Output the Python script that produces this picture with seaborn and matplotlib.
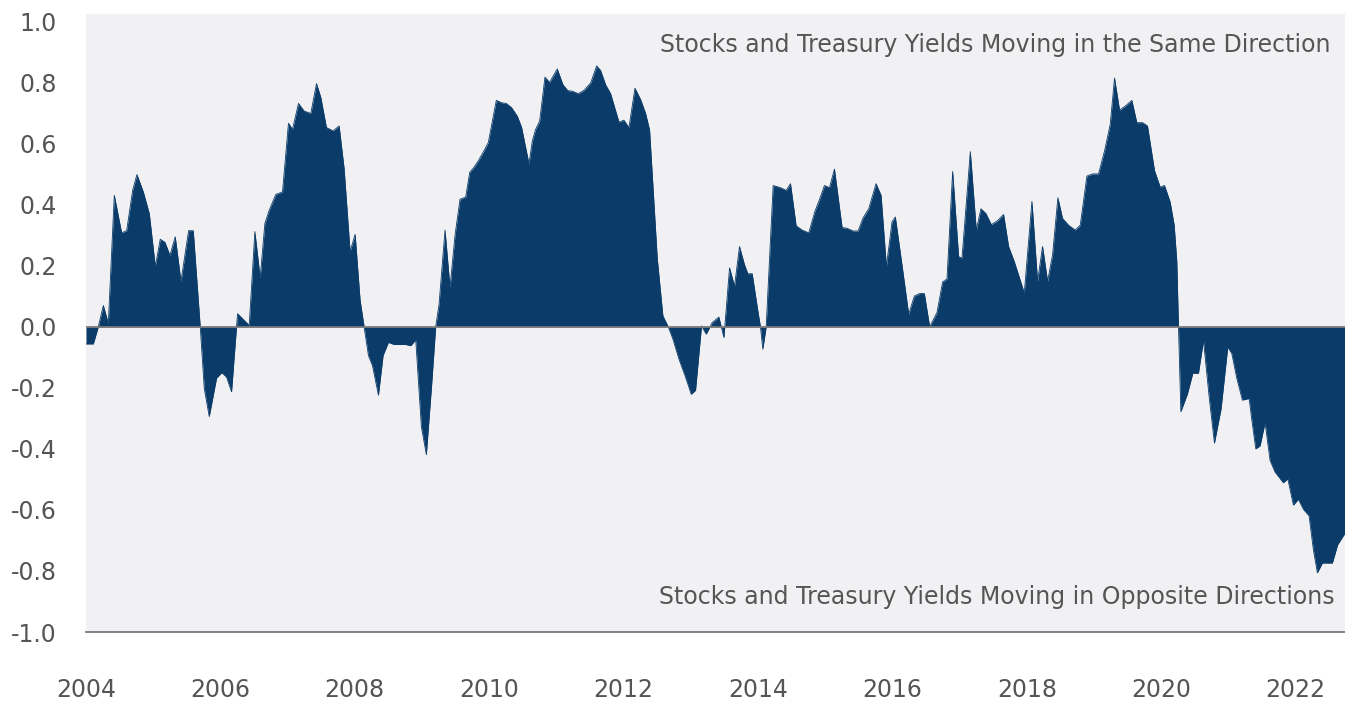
import matplotlib
matplotlib.use("Agg")
import matplotlib.pyplot as plt
import seaborn as sns
import pandas as pd

# ---- data (fractional year, correlation) ----
dates = [
    2004.000, 2004.109, 2004.183, 2004.258, 2004.332, 2004.421, 2004.530, 2004.605,
    2004.694, 2004.758, 2004.853, 2004.942, 2005.031, 2005.105, 2005.175, 2005.249,
    2005.328, 2005.413, 2005.527, 2005.596, 2005.700, 2005.760, 2005.834, 2005.943,
    2006.022, 2006.092, 2006.166, 2006.255, 2006.429, 2006.513, 2006.592, 2006.662,
    2006.726, 2006.825, 2006.924, 2007.013, 2007.073, 2007.162, 2007.246, 2007.345,
    2007.430, 2007.494, 2007.578, 2007.677, 2007.767, 2007.841, 2007.930, 2008.005,
    2008.079, 2008.139, 2008.203, 2008.263, 2008.352, 2008.421, 2008.500, 2008.585,
    2008.758, 2008.832, 2008.907, 2008.991, 2009.065, 2009.145, 2009.204, 2009.254,
    2009.343, 2009.417, 2009.492, 2009.566, 2009.650, 2009.710, 2009.774, 2009.838,
    2009.923, 2009.987, 2010.106, 2010.186, 2010.255, 2010.334, 2010.419, 2010.483,
    2010.542, 2010.592, 2010.642, 2010.691, 2010.751, 2010.830, 2010.899, 2011.013,
    2011.098, 2011.170, 2011.237, 2011.326, 2011.411, 2011.510, 2011.599, 2011.658,
    2011.733, 2011.807, 2011.931, 2012.005, 2012.080, 2012.169, 2012.253, 2012.328,
    2012.387, 2012.437, 2012.501, 2012.585, 2012.665, 2012.734, 2012.823, 2012.913,
    2013.007, 2013.071, 2013.160, 2013.230, 2013.319, 2013.418, 2013.493, 2013.577,
    2013.651, 2013.725, 2013.800, 2013.849, 2013.914, 2013.998, 2014.037, 2014.072,
    2014.122, 2014.226, 2014.335, 2014.419, 2014.484, 2014.568, 2014.657, 2014.756,
    2014.845, 2014.920, 2014.989, 2015.064, 2015.138, 2015.252, 2015.326, 2015.415,
    2015.490, 2015.564, 2015.648, 2015.757, 2015.832, 2015.911, 2015.995, 2016.044,
    2016.143, 2016.243, 2016.327, 2016.406, 2016.476, 2016.555, 2016.664, 2016.748,
    2016.813, 2016.897, 2016.986, 2017.036, 2017.160, 2017.249, 2017.318, 2017.393,
    2017.472, 2017.556, 2017.655, 2017.730, 2017.814, 2017.963, 2018.077, 2018.161,
    2018.235, 2018.310, 2018.384, 2018.463, 2018.533, 2018.622, 2018.721, 2018.796,
    2018.895, 2018.979, 2019.068, 2019.158, 2019.242, 2019.306, 2019.381, 2019.475,
    2019.564, 2019.638, 2019.723, 2019.797, 2019.901, 2019.985, 2020.050, 2020.134,
    2020.194, 2020.233, 2020.258, 2020.293, 2020.392, 2020.471, 2020.555, 2020.630,
    2020.714, 2020.793, 2020.892, 2020.991, 2021.051, 2021.125, 2021.209, 2021.309,
    2021.348, 2021.408, 2021.472, 2021.546, 2021.621, 2021.695, 2021.819, 2021.884,
    2021.968, 2022.042, 2022.117, 2022.201, 2022.265, 2022.325, 2022.399, 2022.548,
    2022.627, 2022.736,
]

corr = [
    -0.056, -0.056, 0.000, 0.070, 0.011, 0.431, 0.308, 0.315,
    0.447, 0.499, 0.442, 0.371, 0.198, 0.287, 0.277, 0.234,
    0.295, 0.149, 0.315, 0.315, 0.000, -0.202, -0.294, -0.168,
    -0.150, -0.165, -0.213, 0.043, 0.005, 0.312, 0.160, 0.339,
    0.382, 0.434, 0.442, 0.667, 0.647, 0.732, 0.707, 0.699,
    0.797, 0.752, 0.653, 0.642, 0.658, 0.519, 0.247, 0.303,
    0.087, 0.000, -0.094, -0.127, -0.224, -0.094, -0.051, -0.058,
    -0.058, -0.062, -0.043, -0.327, -0.419, -0.186, 0.000, 0.074,
    0.317, 0.128, 0.301, 0.418, 0.425, 0.506, 0.523, 0.544,
    0.577, 0.604, 0.742, 0.734, 0.732, 0.718, 0.690, 0.653,
    0.588, 0.534, 0.609, 0.647, 0.674, 0.818, 0.801, 0.845,
    0.793, 0.774, 0.772, 0.764, 0.775, 0.799, 0.855, 0.840,
    0.793, 0.764, 0.671, 0.677, 0.653, 0.782, 0.745, 0.699,
    0.645, 0.463, 0.225, 0.036, 0.000, -0.040, -0.105, -0.159,
    -0.221, -0.208, 0.003, -0.024, 0.014, 0.032, -0.035, 0.193,
    0.133, 0.263, 0.203, 0.174, 0.174, 0.052, 0.000, -0.073,
    0.000, 0.463, 0.456, 0.447, 0.469, 0.331, 0.317, 0.308,
    0.377, 0.420, 0.463, 0.456, 0.517, 0.325, 0.323, 0.314,
    0.314, 0.357, 0.387, 0.469, 0.431, 0.198, 0.344, 0.360,
    0.203, 0.041, 0.101, 0.109, 0.109, 0.000, 0.047, 0.147,
    0.157, 0.509, 0.230, 0.225, 0.574, 0.317, 0.387, 0.371,
    0.335, 0.346, 0.368, 0.263, 0.214, 0.111, 0.411, 0.149,
    0.263, 0.149, 0.236, 0.423, 0.355, 0.333, 0.317, 0.333,
    0.494, 0.501, 0.501, 0.577, 0.663, 0.815, 0.710, 0.725,
    0.742, 0.669, 0.669, 0.658, 0.512, 0.458, 0.463, 0.409,
    0.333, 0.214, 0.000, -0.278, -0.219, -0.152, -0.152, -0.045,
    -0.229, -0.381, -0.268, -0.067, -0.087, -0.168, -0.240, -0.235,
    -0.303, -0.400, -0.390, -0.314, -0.438, -0.476, -0.511, -0.498,
    -0.584, -0.565, -0.598, -0.619, -0.730, -0.806, -0.774, -0.774,
    -0.714, -0.676,
]

x_ticks = [2004, 2006, 2008, 2010, 2012, 2014, 2016, 2018, 2020, 2022]
x_tick_labels = ["2004", "2006", "2008", "2010", "2012", "2014", "2016", "2018", "2020", "2022"]
y_ticks = [-1.0, -0.8, -0.6, -0.4, -0.2, 0.0, 0.2, 0.4, 0.6, 0.8, 1.0]
y_tick_labels = ["-1.0", "-0.8", "-0.6", "-0.4", "-0.2", "0.0", "0.2", "0.4", "0.6", "0.8", "1.0"]

label_top = "Stocks and Treasury Yields Moving in the Same Direction"
label_bottom = "Stocks and Treasury Yields Moving in Opposite Directions"

# ---- styling ----
NAVY = "#0b3c69"
BG = "#f1f1f4"
TXT = "#555555"
LINE = "#7a7a7a"

sns.set_theme(style="white")
plt.rcParams["font.family"] = ["DejaVu Sans"]

W, H = 1345, 703
fig = plt.figure(figsize=(W / 100, H / 100), dpi=100)
left, right, top, bottom = 86, 1345, 14, 632
ax = fig.add_axes([left / W, 1 - bottom / H, (right - left) / W, (bottom - top) / H])
ax.set_facecolor(BG)

df = pd.DataFrame({"date": dates, "corr": corr})
sns.lineplot(data=df, x="date", y="corr", ax=ax, color=NAVY, linewidth=0.6)
ax.fill_between(df["date"], df["corr"], 0, color=NAVY, linewidth=0)
ax.axhline(0, color=LINE, linewidth=1.3, zorder=3)

ax.set_xlim(2004.0, 2022.736)
ax.set_ylim(-1.0, 1.025)
ax.set_xticks(x_ticks)
ax.set_xticklabels(x_tick_labels)
ax.set_yticks(y_ticks)
ax.set_yticklabels(y_tick_labels)
ax.set_xlabel("")
ax.set_ylabel("")

for s in ["left", "right", "top"]:
    ax.spines[s].set_visible(False)
ax.spines["bottom"].set_color(LINE)
ax.spines["bottom"].set_linewidth(1.3)

ax.tick_params(axis="y", length=0, pad=21, labelsize=17, labelcolor=TXT)
ax.tick_params(axis="x", length=0, pad=33, labelsize=17, labelcolor=TXT)

ax.text(2022.513, 0.923, label_top, ha="right", va="center", fontsize=17, color=TXT)
ax.text(2022.587, -0.886, label_bottom, ha="right", va="center", fontsize=17, color=TXT)

fig.savefig("out.png", dpi=100, facecolor="white")
